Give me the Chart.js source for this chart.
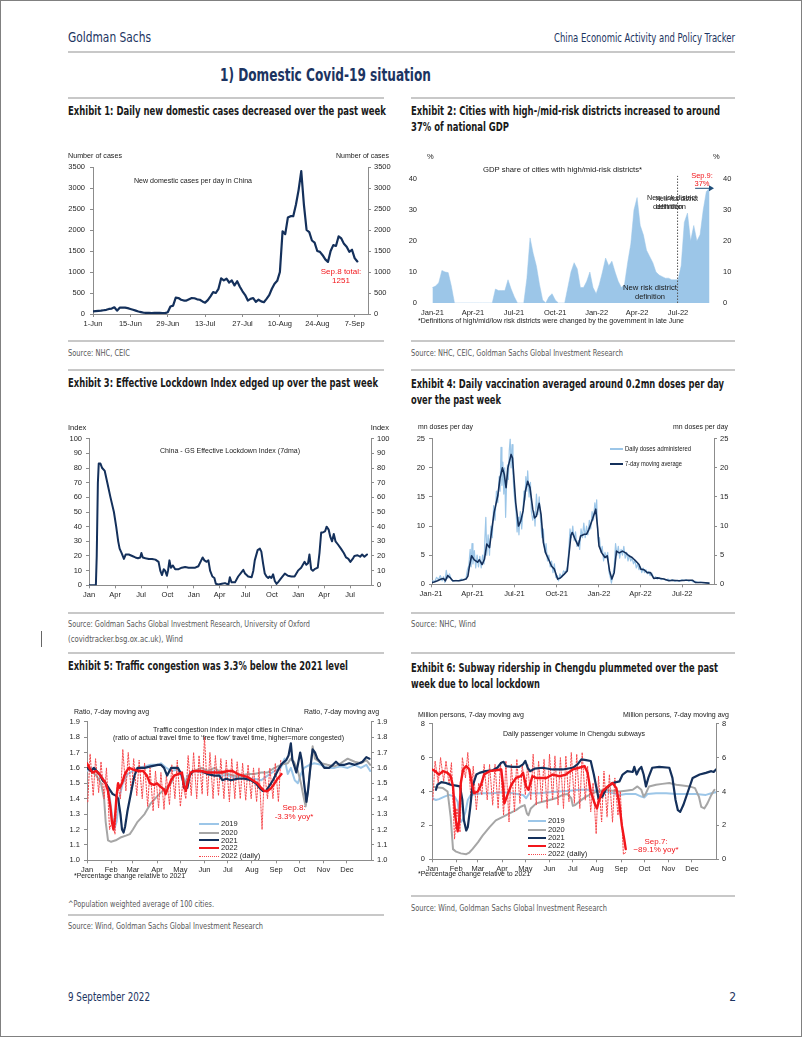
<!DOCTYPE html>
<html>
<head>
<meta charset="utf-8">
<script src="https://cdn.jsdelivr.net/npm/chart.js@4.4.1/dist/chart.umd.min.js"></script>
<style>
  body { margin: 0; background: #fff; }
  #page { position: relative; width: 802px; height: 1037px; box-sizing: border-box; border: 1px solid #808080; overflow: hidden; background: #fff; }
  .t { position: absolute; white-space: nowrap; line-height: 1; transform-origin: 0 50%; }
  .rule { position: absolute; height: 2px; background: #c8c8c8; }
  .seg { position: absolute; height: 0; }
  canvas { position: absolute; }
</style>
</head>
<body>
<div id="page"></div>
<script>
// ---- Exhibit 1: daily new domestic cases, 1-Jun to 8-Sep 2022 ----
const casesTickLabels = ['1-Jun', '15-Jun', '29-Jun', '13-Jul', '27-Jul', '10-Aug', '24-Aug', '7-Sep'];
const casesTickDays = [0, 14, 28, 42, 56, 70, 84, 98];
const dailyCases = [
  60, 70, 75, 80, 90, 100, 120, 130, 160, 80,
  150, 150, 150, 140, 120, 100, 80, 60, 45, 30,
  25, 25, 20, 25, 30, 25, 20, 20, 40, 180,
  200, 390, 380, 340, 320, 320, 350, 380, 375, 350,
  340, 300, 270, 330, 420, 520, 500, 600, 850, 800,
  840, 750, 800, 680, 780, 650, 540, 450, 320, 360,
  380, 290, 340, 300, 280, 360, 450, 600, 720, 790,
  1000, 1970, 1900, 2300, 2330, 2330, 2600, 2950, 3400, 2600,
  2000, 1950, 1750, 1700, 1500, 1480, 1400, 1300, 1240, 1500,
  1640, 1620, 1850, 1800, 1670, 1600, 1480, 1530, 1330, 1251
];

// ---- Exhibit 2: GDP share of cities with high/mid-risk districts, weekly from 1-Jan-2021 (%) ----
const GDP_START = '2021-01-01';
const gdpShareWeekly = [
  5, 5.5, 6.5, 10.5, 10, 9.8, 5.5, 0, 0, 0, 0, 0, 0, 0, 0, 0, 0, 0, 0, 0,
  4.5, 4, 4, 4, 7.5, 4.5, 2, 0, 0, 0, 8, 21, 16, 12, 6, 1, 0, 2, 3, 1,
  0, 0, 0, 5, 10, 13, 11, 5, 5, 7, 10, 5, 3, 6, 10, 14.5, 12, 13.5, 10, 7,
  5, 6, 13, 19, 30, 34, 25, 22, 17, 15, 13, 10, 9, 8.5, 8, 8, 7.5, 7.5, 7.5, 12,
  26, 29, 20, 25, 20, 22, 30, 36, 37
];
const RISK_CHANGE_DATE = '2022-06-30';
const ARROW_FROM_DATE = '2022-08-08';
const latestShare = 37;
const monthYrTickDates = ['2021-01-01', '2021-04-01', '2021-07-01', '2021-10-01', '2022-01-01', '2022-04-01', '2022-07-01'];
const monthYrTickLabels = ['Jan-21', 'Apr-21', 'Jul-21', 'Oct-21', 'Jan-22', 'Apr-22', 'Jul-22'];

// ---- Exhibit 3: GS Effective Lockdown Index, [days since 1-Jan-2020, index] ----
const LOCK_START = '2020-01-01';
const lockTickDates = ['2020-01-01', '2020-04-01', '2020-07-01', '2020-10-01', '2021-01-01', '2021-04-01',
  '2021-07-01', '2021-10-01', '2022-01-01', '2022-04-01', '2022-07-01'];
const lockTickLabels = ['Jan', 'Apr', 'Jul', 'Oct', 'Jan', 'Apr', 'Jul', 'Oct', 'Jan', 'Apr', 'Jul'];
const lockdownIndex = [
  [0, 0], [24, 0], [27, 20], [31, 70], [34, 83], [40, 83], [46, 80], [55, 78], [64, 70], [75, 60],
  [87, 50], [95, 40], [102, 30], [107, 25], [114, 22], [122, 18], [128, 21], [139, 21], [151, 20], [162, 19],
  [171, 18.5], [179, 19], [183, 22], [188, 19], [197, 18.5], [209, 18], [220, 18], [232, 17.5], [243, 16], [249, 10],
  [255, 7], [261, 11], [266, 10], [272, 6.5], [276, 10], [281, 17], [286, 12], [293, 13.5], [301, 11], [313, 11],
  [324, 12], [336, 12.5], [348, 12], [359, 12], [371, 12], [382, 13], [392, 17], [397, 19], [403, 17], [411, 16],
  [417, 17], [423, 10], [431, 6], [438, 5], [443, 1], [452, 0.5], [464, 1], [475, 1.5], [487, 0.5], [492, 5.5],
  [498, 2], [510, 2], [521, 6], [533, 9], [539, 10.5], [545, 8], [556, 6], [568, 5.5], [574, 10], [579, 17],
  [589, 24], [597, 25], [602, 23], [608, 15], [614, 8], [620, 6], [626, 5], [631, 6], [637, 5], [643, 7.5],
  [649, 3], [655, 1], [660, 2], [672, 5], [684, 8], [695, 6.5], [707, 6], [718, 6], [730, 10], [741, 12],
  [753, 16], [759, 14], [765, 15], [770, 21], [776, 11], [782, 10], [788, 11], [799, 12], [805, 22], [811, 36],
  [817, 36], [825, 37], [830, 40], [837, 38], [843, 33], [849, 30], [855, 35], [861, 30], [869, 28], [880, 25],
  [890, 22], [898, 19], [906, 18], [913, 16], [921, 18], [927, 20], [938, 20.5], [947, 19.5], [954, 21], [962, 19.5], [971, 21]
];

// ---- Exhibit 4: vaccinations, [days since 1-Jan-2021, mn doses] ----
const VAX_START = '2021-01-01';
const vaxDaily = [
  [0, 0.3], [4, 0.6], [8, 0.5], [12, 1.2], [16, 0.8], [20, 1.5], [24, 0.6], [27, 1.3], [30, 0.3], [33, 2.4],
  [36, 1.0], [40, 1.8], [44, 0.8], [48, 0.5], [54, 0.7], [60, 0.6], [66, 0.9], [72, 0.8], [76, 1.1], [79, 2.5],
  [82, 3.2], [85, 6.0], [87, 3.0], [89, 7.0], [91, 3.5], [94, 5.8], [97, 2.8], [100, 5.0], [103, 3.0], [106, 4.8],
  [109, 2.8], [112, 5.0], [115, 3.5], [117, 8.0], [119, 11.5], [121, 5.0], [124, 8.5], [127, 5.0], [130, 10.0], [133, 8.0],
  [136, 13.5], [139, 11.0], [142, 16.0], [145, 14.0], [148, 18.5], [150, 16.0], [152, 23.5], [154, 17.0], [156, 21.0], [158, 15.5],
  [160, 20.0], [162, 11.5], [164, 17.0], [166, 20.5], [168, 18.0], [170, 23.0], [172, 25.0], [174, 20.0], [176, 24.0], [178, 19.0],
  [180, 16.0], [182, 14.5], [185, 12.0], [187, 9.0], [189, 11.5], [191, 8.5], [194, 12.5], [197, 9.5], [200, 13.0], [202, 16.0],
  [204, 14.5], [206, 18.5], [208, 16.0], [210, 19.5], [213, 15.0], [216, 17.5], [218, 12.5], [221, 11.0], [224, 12.5], [226, 10.0],
  [229, 15.5], [232, 12.0], [235, 15.0], [238, 11.0], [241, 8.0], [244, 9.5], [247, 5.5], [250, 7.0], [253, 4.0], [256, 5.0],
  [259, 3.0], [262, 4.0], [265, 2.0], [268, 3.5], [271, 1.2], [274, 1.5], [277, 0.6], [280, 1.8], [284, 1.2], [288, 2.3],
  [292, 2.0], [296, 3.0], [299, 5.5], [302, 9.5], [305, 8.0], [308, 10.0], [311, 7.5], [314, 9.0], [317, 6.5], [320, 7.5],
  [323, 6.0], [326, 9.5], [329, 8.0], [332, 10.5], [335, 8.0], [338, 10.0], [341, 8.5], [344, 11.0], [347, 9.5], [350, 12.5],
  [353, 11.0], [356, 14.0], [358, 12.0], [360, 14.5], [362, 9.0], [364, 7.0], [366, 8.0], [369, 5.5], [372, 6.5], [375, 4.0],
  [378, 5.5], [381, 4.5], [384, 5.5], [387, 2.0], [390, 1.0], [392, 0.2], [395, 1.5], [398, 3.0], [401, 7.0], [404, 5.0],
  [407, 6.5], [410, 4.5], [413, 6.0], [416, 5.0], [419, 6.5], [422, 4.5], [425, 5.5], [428, 4.0], [431, 5.0], [434, 4.0],
  [437, 4.5], [440, 3.5], [443, 4.2], [446, 2.8], [449, 3.5], [452, 2.5], [455, 3.0], [458, 2.0], [461, 2.8], [464, 2.0],
  [467, 2.5], [470, 1.8], [473, 2.2], [476, 1.5], [480, 1.9], [484, 1.0], [488, 1.3], [492, 0.9], [496, 1.2], [500, 0.8],
  [505, 1.0], [510, 0.7], [515, 0.9], [520, 0.6], [525, 0.8], [530, 0.5], [535, 0.7], [540, 0.5], [545, 0.8], [550, 0.6],
  [555, 0.8], [560, 0.5], [565, 0.7], [570, 0.4], [575, 0.5], [580, 0.3], [585, 0.4], [590, 0.3], [595, 0.3], [600, 0.2], [604, 0.2]
];
const vaxMA7 = [
  [0, 0.3], [7, 0.4], [14, 0.6], [22, 0.9], [27, 1.0], [31, 0.6], [36, 1.5], [42, 1.1], [47, 0.6], [54, 0.6],
  [61, 0.6], [69, 0.75], [76, 0.9], [80, 1.4], [83, 2.9], [88, 4.9], [94, 4.2], [101, 3.8], [105, 4.2], [111, 3.4],
  [116, 4.3], [121, 6.9], [127, 6.3], [132, 9.4], [137, 12.3], [145, 15.2], [150, 18.3], [155, 20], [159, 18.9], [163, 16.6],
  [167, 20], [174, 22.3], [177, 21.7], [184, 14], [190, 10], [195, 10.9], [200, 12.6], [205, 16], [210, 17.7], [215, 16.6],
  [221, 12.9], [225, 11.4], [229, 11.7], [235, 13.9], [239, 12], [244, 7.2], [249, 5.4], [257, 4], [262, 3.1], [268, 2.6],
  [275, 0.9], [281, 1.1], [289, 1.7], [296, 2.3], [304, 8.4], [307, 8.9], [315, 7.4], [320, 6.6], [325, 8.3], [333, 8.6],
  [338, 8.6], [343, 9.4], [351, 11.2], [358, 12.9], [362, 9.7], [365, 6.6], [371, 5.4], [378, 4.6], [383, 4.9], [388, 2.3],
  [393, 0.9], [398, 2], [403, 5.7], [409, 5.4], [416, 5.7], [423, 5.4], [430, 4.9], [437, 4.6], [445, 4], [452, 3.4],
  [456, 2.6], [463, 2.5], [470, 2], [477, 2], [484, 1], [492, 1.1], [499, 1], [506, 0.9], [517, 0.6], [524, 0.7],
  [539, 0.6], [553, 0.7], [568, 0.7], [575, 0.3], [589, 0.3], [604, 0.2]
];

// ---- Exhibits 5 and 6: [day of year, value] ----
const monthLabels = ['Jan', 'Feb', 'Mar', 'Apr', 'May', 'Jun', 'Jul', 'Aug', 'Sep', 'Oct', 'Nov', 'Dec'];
const traffic2019 = [
  [0, 1.58], [5, 1.6], [12, 1.58], [18, 1.55], [24, 1.5], [29, 1.42], [32, 1.3], [35, 1.2], [38, 1.25], [42, 1.42],
  [46, 1.5], [52, 1.56], [59, 1.58], [65, 1.6], [74, 1.61], [82, 1.62], [91, 1.62], [95, 1.63], [102, 1.6], [108, 1.58],
  [117, 1.59], [123, 1.52], [126, 1.49], [129, 1.55], [138, 1.58], [147, 1.57], [155, 1.57], [164, 1.58], [172, 1.55], [181, 1.55],
  [189, 1.54], [198, 1.55], [207, 1.53], [215, 1.53], [224, 1.52], [232, 1.55], [241, 1.58], [249, 1.6], [254, 1.66], [258, 1.56],
  [262, 1.6], [267, 1.52], [271, 1.5], [275, 1.56], [279, 1.6], [286, 1.62], [292, 1.63], [301, 1.62], [309, 1.6], [318, 1.6],
  [326, 1.61], [335, 1.6], [344, 1.62], [352, 1.6], [359, 1.62], [364, 1.58]
];
const traffic2020 = [
  [0, 1.6], [5, 1.58], [12, 1.55], [18, 1.5], [22, 1.4], [24, 1.25], [27, 1.13], [31, 1.12], [37, 1.13], [44, 1.15],
  [50, 1.16], [55, 1.17], [59, 1.2], [65, 1.25], [74, 1.3], [82, 1.37], [91, 1.42], [99, 1.46], [108, 1.5], [112, 1.55],
  [121, 1.57], [127, 1.5], [131, 1.55], [138, 1.58], [147, 1.6], [155, 1.58], [164, 1.6], [172, 1.57], [181, 1.56], [189, 1.55],
  [198, 1.55], [207, 1.56], [215, 1.56], [224, 1.57], [232, 1.57], [241, 1.6], [249, 1.62], [258, 1.63], [262, 1.66], [266, 1.64],
  [271, 1.58], [275, 1.5], [278, 1.42], [281, 1.35], [284, 1.45], [287, 1.6], [290, 1.74], [293, 1.66], [301, 1.63], [309, 1.62],
  [318, 1.61], [326, 1.63], [335, 1.66], [344, 1.64], [352, 1.63], [359, 1.65], [364, 1.62]
];
const traffic2021 = [
  [0, 1.6], [5, 1.58], [9, 1.6], [14, 1.57], [17, 1.55], [20, 1.52], [24, 1.5], [29, 1.46], [33, 1.43], [37, 1.42],
  [40, 1.4], [43, 1.3], [45, 1.2], [47, 1.18], [49, 1.22], [52, 1.32], [57, 1.45], [61, 1.55], [65, 1.6], [69, 1.6],
  [74, 1.6], [82, 1.61], [91, 1.62], [95, 1.62], [99, 1.6], [103, 1.55], [108, 1.6], [117, 1.6], [122, 1.55], [125, 1.47],
  [129, 1.47], [132, 1.55], [136, 1.58], [147, 1.58], [155, 1.56], [164, 1.55], [170, 1.55], [174, 1.52], [179, 1.53], [185, 1.52],
  [194, 1.53], [202, 1.53], [211, 1.52], [217, 1.5], [222, 1.47], [226, 1.45], [230, 1.45], [234, 1.48], [239, 1.52], [243, 1.56],
  [247, 1.6], [251, 1.63], [256, 1.65], [259, 1.68], [262, 1.76], [264, 1.65], [266, 1.62], [269, 1.57], [271, 1.62], [274, 1.7],
  [276, 1.65], [279, 1.5], [282, 1.38], [284, 1.45], [287, 1.6], [290, 1.72], [293, 1.7], [296, 1.66], [301, 1.63], [305, 1.6],
  [311, 1.6], [316, 1.62], [320, 1.64], [324, 1.62], [331, 1.62], [337, 1.63], [344, 1.62], [350, 1.63], [354, 1.64], [359, 1.67], [363, 1.66]
];
const traffic2022 = [
  [0, 1.63], [3, 1.6], [7, 1.57], [12, 1.58], [16, 1.56], [20, 1.53], [24, 1.5], [27, 1.45], [30, 1.35], [32, 1.25],
  [34, 1.2], [36, 1.28], [38, 1.42], [40, 1.5], [42, 1.47], [45, 1.5], [48, 1.55], [51, 1.58], [54, 1.6], [59, 1.59],
  [65, 1.58], [72, 1.58], [77, 1.55], [81, 1.5], [86, 1.49], [90, 1.5], [94, 1.48], [99, 1.46], [101, 1.43], [104, 1.47],
  [108, 1.52], [112, 1.55], [117, 1.56], [122, 1.57], [124, 1.5], [127, 1.45], [129, 1.5], [133, 1.57], [138, 1.58], [147, 1.58],
  [155, 1.57], [164, 1.57], [172, 1.57], [181, 1.58], [187, 1.58], [194, 1.56], [200, 1.55], [207, 1.54], [213, 1.52], [219, 1.5],
  [224, 1.47], [228, 1.45], [232, 1.45], [237, 1.47], [241, 1.5], [245, 1.53], [250, 1.56]
];
// 2022 daily readings: weekday highs and Sunday lows, one pair per week from 2-Jan-2022
const trafficDailyHigh = [1.69, 1.66, 1.64, 1.6, 1.25, 1.5, 1.72, 1.7, 1.66, 1.65, 1.63, 1.6, 1.58, 1.57, 1.55, 1.62, 1.65, 1.5,
  1.68, 1.7, 1.68, 1.8, 1.7, 1.68, 1.66, 1.65, 1.66, 1.64, 1.63, 1.62, 1.6, 1.6, 1.58, 1.6, 1.63, 1.65];
const trafficDailyLow = [1.38, 1.42, 1.44, 1.4, 1.2, 1.17, 1.4, 1.45, 1.43, 1.42, 1.4, 1.35, 1.32, 1.34, 1.33, 1.36, 1.4, 1.35,
  1.4, 1.42, 1.4, 1.43, 1.42, 1.4, 1.42, 1.4, 1.38, 1.4, 1.4, 1.39, 1.4, 1.38, 1.2, 1.4, 1.4, 1.38];

const subway2019 = [
  [0, 3.6], [5, 3.5], [9, 3.55], [16, 3.7], [22, 3.8], [29, 3.7], [33, 3.4], [35, 2.6], [37, 2.2], [39, 2.3],
  [43, 2.8], [46, 3.5], [50, 3.8], [57, 3.85], [65, 3.9], [78, 3.9], [91, 3.95], [104, 3.9], [117, 3.8], [121, 3.6],
  [125, 3.9], [138, 3.9], [151, 3.95], [164, 4.0], [177, 4.05], [189, 4.1], [202, 4.1], [215, 4.0], [228, 3.95], [241, 3.8],
  [249, 3.85], [262, 3.85], [269, 3.7], [273, 3.65], [277, 3.85], [288, 3.9], [301, 3.9], [314, 3.85], [326, 3.85], [339, 3.85],
  [352, 3.8], [359, 3.9], [365, 3.95]
];
const subway2020 = [
  [0, 4.3], [5, 4.25], [14, 4.2], [20, 4.0], [24, 2.5], [27, 0.6], [31, 0.45], [37, 0.35], [44, 0.3], [48, 0.4],
  [52, 0.6], [59, 1.0], [65, 1.4], [74, 1.9], [82, 2.3], [91, 2.5], [99, 2.7], [108, 2.9], [114, 3.1], [119, 3.2],
  [122, 2.7], [124, 2.6], [127, 3.0], [134, 3.3], [142, 3.4], [151, 3.5], [159, 3.6], [168, 3.8], [174, 3.85], [179, 3.6],
  [181, 3.15], [184, 3.2], [189, 3.4], [198, 3.7], [207, 3.9], [215, 4.05], [224, 4.1], [232, 4.05], [241, 4.0], [249, 4.05],
  [258, 4.1], [264, 4.3], [269, 4.1], [272, 3.7], [275, 3.9], [279, 4.3], [288, 4.4], [296, 4.45], [305, 4.5], [314, 4.4],
  [322, 4.35], [331, 4.3], [338, 4.2], [343, 3.7], [346, 3.1], [350, 3.0], [354, 3.3], [359, 3.8], [363, 4.1]
];
const subway2021 = [
  [5, 4.1], [7, 4.4], [12, 4.55], [18, 4.5], [24, 4.4], [31, 4.35], [36, 4.3], [39, 3.5], [41, 2.3], [44, 1.7],
  [46, 1.9], [49, 3.0], [52, 4.3], [57, 5.0], [61, 5.1], [69, 5.2], [78, 5.25], [84, 5.4], [89, 5.7], [92, 5.75],
  [95, 5.5], [104, 5.45], [112, 5.45], [117, 5.6], [120, 5.8], [123, 5.4], [126, 5.2], [132, 5.35], [142, 5.4], [155, 5.3],
  [168, 5.3], [181, 5.4], [187, 5.6], [192, 5.9], [198, 5.85], [204, 5.8], [208, 5.0], [211, 4.3], [214, 3.6], [219, 3.7],
  [224, 4.2], [232, 4.5], [241, 4.6], [245, 5.0], [251, 5.2], [258, 5.15], [260, 5.45], [263, 5.0], [266, 5.3], [269, 5.45],
  [272, 5.0], [275, 4.3], [278, 4.8], [283, 5.4], [292, 5.45], [305, 5.4], [309, 4.8], [313, 3.5], [316, 2.9], [319, 2.8],
  [323, 3.2], [329, 4.0], [335, 4.8], [344, 5.0], [352, 5.1], [359, 5.2], [362, 5.15], [365, 5.3]
];
const subway2022 = [
  [0, 5.3], [4, 5.2], [9, 5.0], [14, 5.2], [20, 5.1], [24, 4.9], [27, 4.3], [30, 2.5], [33, 1.65], [35, 2.3],
  [37, 4.5], [40, 5.3], [44, 5.5], [48, 5.3], [51, 4.5], [54, 3.9], [59, 4.0], [63, 4.4], [67, 5.0], [74, 5.2],
  [82, 5.25], [89, 5.3], [91, 4.5], [93, 3.3], [97, 3.8], [102, 4.4], [108, 4.8], [114, 4.9], [117, 5.1], [121, 4.3],
  [124, 4.1], [129, 4.9], [134, 4.8], [147, 4.8], [155, 5.0], [164, 4.9], [172, 5.0], [181, 5.3], [189, 5.4], [196, 5.5],
  [200, 5.1], [204, 4.0], [209, 3.3], [212, 3.0], [215, 3.5], [219, 4.0], [226, 4.3], [232, 4.5], [237, 4.2], [241, 3.2],
  [244, 2.0], [247, 1.2], [249, 0.6]
];
const subwayDailyHigh = [5.8, 6.0, 5.8, 5.7, 3.0, 6.0, 6.3, 5.5, 4.5, 5.6, 5.6, 5.6, 5.7, 5.8, 5.6, 5.9, 5.6, 5.6,
  6.2, 5.8, 5.9, 6.2, 6.1, 6.0, 6.1, 6.3, 6.2, 6.3, 5.5, 4.5, 4.9, 5.2, 5.0, 4.8, 4.0, 0.4];
const subwayDailyLow = [3.5, 4.5, 4.6, 4.4, 1.2, 1.6, 4.8, 3.6, 2.9, 3.8, 3.5, 3.2, 3.0, 2.6, 2.2, 2.8, 3.3, 3.8,
  3.5, 3.2, 3.4, 3.0, 3.5, 3.2, 3.0, 3.4, 3.3, 3.0, 3.5, 2.8, 1.5, 2.2, 2.5, 2.2, 2.6, 0.3];

// ---- styling ----
const NARROW = '"Liberation Sans Narrow","DejaVu Sans Condensed","Liberation Sans",Arial,sans-serif';
const ARIAL = '"Liberation Sans",Arial,sans-serif';
const NAVY = '#14305b', RED = '#f2161b', LBLUE = '#9cc6e8', GRAY = '#a6a6a6';
const AXIS = '#8c8c8c', TICK = '#262626', HEAD = '#1c3461', SRC = '#595959';
const page = document.getElementById('page');

const dayOf = (s, base) => Math.round((Date.parse(s) - Date.parse(base)) / 864e5);
const pts = arr => arr.map(p => ({ x: p[0], y: p[1] }));
function weekly(high, low) {
  // Sunday low then mid-week high for every week starting 2-Jan-2022
  const out = [];
  high.forEach((h, k) => { out.push({ x: 1 + 7 * k, y: low[k] }, { x: 4 + 7 * k, y: h }); });
  return out;
}

function txt(s, x, y, size, o = {}) {
  const d = document.createElement('div');
  d.className = 't';
  d.textContent = s;
  d.style.fontFamily = o.narrow ? NARROW : ARIAL;
  d.style.fontSize = size + 'px';
  d.style.fontWeight = o.bold ? 'bold' : 'normal';
  d.style.color = o.color || '#1a1a1a';
  d.style.top = (y - size / 2) + 'px';
  page.appendChild(d);
  const aw = d.getBoundingClientRect().width;
  const sc = o.w ? o.w / aw : 1;
  const fw = aw * sc;
  d.style.left = (o.align === 'right' ? x - fw : o.align === 'center' ? x - fw / 2 : x) + 'px';
  if (sc !== 1) d.style.transform = 'scaleX(' + sc + ')';
}
function rule(x1, x2, y) {
  const d = document.createElement('div');
  d.className = 'rule';
  Object.assign(d.style, { left: x1 + 'px', width: (x2 - x1) + 'px', top: (y - 1) + 'px' });
  page.appendChild(d);
}
function seg(x1, x2, y, color, w, style) {
  const d = document.createElement('div');
  d.className = 'seg';
  Object.assign(d.style, { left: x1 + 'px', width: (x2 - x1) + 'px', top: (y - w / 2) + 'px',
    borderTop: w + 'px ' + (style || 'solid') + ' ' + color });
  page.appendChild(d);
}

function xAxis(o) {
  return {
    type: 'linear', min: o.min, max: o.max,
    afterBuildTicks: s => { s.ticks = o.at.map(v => ({ value: v })); },
    afterFit: s => { s.height = o.h; },
    ticks: { autoSkip: false, maxRotation: 0, padding: 2, color: TICK, font: { family: ARIAL, size: 7.5 },
      callback: (v, i) => o.labels[i] },
    grid: { display: o.line !== false, drawOnChartArea: false, tickLength: 3, color: AXIS },
    border: { display: o.line !== false, color: AXIS }
  };
}
function yAxis(pos, o) {
  return {
    type: 'linear', position: pos, min: o.min, max: o.max,
    afterBuildTicks: s => { s.ticks = o.at.map(v => ({ value: v })); },
    // fixed axis width; keep label padding from pushing the plot area down
    afterFit: s => { s.width = pos === 'left' ? o.lw : o.rw; s.paddingTop = 4; s.paddingBottom = 4; },
    ticks: { padding: pos === 'left' ? (o.lpad || 4) : (o.rpad || 3), color: TICK,
      font: { family: ARIAL, size: 7.5 }, callback: o.fmt || (v => v) },
    grid: { display: o.line !== false, drawOnChartArea: false, tickLength: 3, color: AXIS },
    border: { display: o.line !== false, color: AXIS }
  };
}
function makeChart(box, x, y, datasets, plugins) {
  const cv = document.createElement('canvas');
  cv.width = box.w; cv.height = box.h;
  Object.assign(cv.style, { left: box.x + 'px', top: box.y + 'px', width: box.w + 'px', height: box.h + 'px' });
  page.appendChild(cv);
  return new Chart(cv, {
    type: 'line',
    data: { datasets },
    options: {
      responsive: false, animation: false, devicePixelRatio: 1,
      layout: { padding: { top: box.top, left: 0, right: 0, bottom: 0 } },
      plugins: { legend: { display: false }, tooltip: { enabled: false } },
      elements: { point: { radius: 0 }, line: { tension: 0, borderJoinStyle: 'round', borderCapStyle: 'round' } },
      scales: { x: xAxis(x), y: yAxis('left', y), y2: yAxis('right', y) }
    },
    plugins: plugins || []
  });
}

// ---- page text ----
txt('Goldman Sachs', 67, 36, 14.5, { narrow: true, color: HEAD, w: 83 });
txt('China Economic Activity and Policy Tracker', 734, 38, 11.5, { narrow: true, color: HEAD, w: 181, align: 'right' });
rule(67, 734, 51);
txt('1) Domestic Covid-19 situation', 219, 74, 18, { narrow: true, bold: true, color: HEAD, w: 211 });

[97, 340, 369, 612, 652].forEach(y => { rule(67, 383, y); rule(410, 734, y); });
rule(67, 383, 914);
rule(410, 734, 895);

const EX = { narrow: true, bold: true, color: '#1a1a1a' };
txt('Exhibit 1: Daily new domestic cases decreased over the past week', 67, 110, 12.5, { ...EX, w: 318 });
txt('Exhibit 2: Cities with high-/mid-risk districts increased to around', 410, 110, 12.5, { ...EX, w: 309 });
txt('37% of national GDP', 410, 126, 12.5, { ...EX, w: 98 });
txt('Exhibit 3: Effective Lockdown Index edged up over the past week', 67, 382, 12.5, { ...EX, w: 310 });
txt('Exhibit 4: Daily vaccination averaged around 0.2mn doses per day', 410, 383, 12.5, { ...EX, w: 313 });
txt('over the past week', 410, 399, 12.5, { ...EX, w: 90 });
txt('Exhibit 5: Traffic congestion was 3.3% below the 2021 level', 67, 665, 12.5, { ...EX, w: 280 });
txt('Exhibit 6: Subway ridership in Chengdu plummeted over the past', 410, 667, 12.5, { ...EX, w: 307 });
txt('week due to local lockdown', 410, 683, 12.5, { ...EX, w: 129 });

const SR = { narrow: true, color: SRC };
txt('Source: NHC, CEIC', 67, 352, 8.5, { ...SR, w: 62 });
txt('Source: NHC, CEIC, Goldman Sachs Global Investment Research', 410, 352, 8.5, { ...SR, w: 212 });
txt('Source: Goldman Sachs Global Investment Research, University of Oxford', 67, 623, 8.5, { ...SR, w: 242 });
txt('(covidtracker.bsg.ox.ac.uk), Wind', 67, 638, 8.5, { ...SR, w: 115 });
txt('Source: NHC, Wind', 410, 623, 8.5, { ...SR, w: 65 });
txt('^Population weighted average of 100 cities.', 67, 903, 8.5, { ...SR, w: 146 });
txt('Source: Wind, Goldman Sachs Global Investment Research', 67, 925, 8.5, { ...SR, w: 195 });
txt('Source: Wind, Goldman Sachs Global Investment Research', 410, 907, 8.5, { ...SR, w: 196 });
txt('9 September 2022', 67, 996, 12, { narrow: true, color: HEAD, w: 82 });
txt('2', 735, 996, 12, { narrow: true, color: HEAD, align: 'right' });
const mark = document.createElement('div');
Object.assign(mark.style, { position: 'absolute', left: '40px', top: '630px', width: '1px', height: '16px', background: '#666' });
page.appendChild(mark);

// ---- Exhibit 1 ----
makeChart({ x: 62, y: 150, w: 333, h: 180, top: 16 },
  { min: 0, max: 103, at: casesTickDays, labels: casesTickLabels, h: 17 },
  { min: 0, max: 3500, at: [0, 500, 1000, 1500, 2000, 2500, 3000, 3500], lw: 30, rw: 28, lpad: 5 },
  [{ data: dailyCases.map((v, i) => ({ x: i, y: v })), borderColor: NAVY, borderWidth: 2.2 }]);
txt('Number of cases', 67, 155, 7.5, { w: 54 });
txt('Number of cases', 388, 155, 7.5, { w: 53, align: 'right' });
txt('New domestic cases per day in China', 133, 180, 7.5, { w: 118 });
txt('Sep.8 total:', 340, 271, 8, { color: RED, align: 'center' });
txt('1251', 340, 280, 8, { color: RED, align: 'center' });

// ---- Exhibit 2 ----
const riskPlugin = {
  id: 'riskLines',
  afterDatasetsDraw(c) {
    const { ctx, scales: { x, y } } = c;
    const px = x.getPixelForValue(dayOf(RISK_CHANGE_DATE, GDP_START));
    ctx.save();
    ctx.strokeStyle = '#555';
    ctx.lineWidth = 1;
    ctx.setLineDash([1.5, 1.5]);
    ctx.beginPath();
    ctx.moveTo(px, y.getPixelForValue(0));
    ctx.lineTo(px, y.getPixelForValue(41));
    ctx.stroke();
    ctx.setLineDash([]);
    const ay = y.getPixelForValue(latestShare);
    const ax0 = x.getPixelForValue(dayOf(ARROW_FROM_DATE, GDP_START));
    const ax1 = c.chartArea.right;
    ctx.strokeStyle = '#1f4e79';
    ctx.fillStyle = '#1f4e79';
    ctx.beginPath(); ctx.moveTo(ax0, ay); ctx.lineTo(ax1 - 4, ay); ctx.stroke();
    ctx.beginPath(); ctx.moveTo(ax1, ay); ctx.lineTo(ax1 - 5, ay - 3); ctx.lineTo(ax1 - 5, ay + 3); ctx.closePath(); ctx.fill();
    ctx.restore();
  }
};
makeChart({ x: 405, y: 150, w: 327, h: 168, top: 12.5 },
  { min: -1, max: 626, at: monthYrTickDates.map(d => dayOf(d, GDP_START)), labels: monthYrTickLabels, h: 16, line: false },
  { min: 0, max: 45, at: [0, 10, 20, 30, 40], lw: 26, rw: 19, lpad: 12, rpad: 6, line: false },
  [{ data: gdpShareWeekly.map((v, k) => ({ x: 7 * k, y: v })), borderColor: LBLUE, backgroundColor: LBLUE,
     borderWidth: 0.5, fill: 'origin' }],
  [riskPlugin]);
txt('%', 426, 156, 7.5);
txt('%', 712, 156, 7.5);
txt('GDP share of cities with high/mid-risk districts*', 561, 169, 7.5, { w: 159, align: 'center' });
txt('New risk district', 649, 287, 7.5, { w: 54, align: 'center' });
txt('definition', 649, 296, 7.5, { align: 'center' });
txt('New risk district', 671, 197, 7.5, { w: 50, align: 'center' });
txt('New risk district', 676, 198, 7.5, { w: 42, align: 'center' });
txt('definition', 667, 206, 7.5, { align: 'center' });
txt('definition', 670, 206, 7.5, { align: 'center' });
txt('Sep.9:', 701, 175, 7.5, { color: RED, align: 'center' });
txt('37%', 701, 183, 7.5, { color: RED, align: 'center' });
txt('*Definitions of high/mid/low risk districts were changed by the government in late June', 417, 320, 7.5, { w: 266 });

// ---- Exhibit 3 ----
makeChart({ x: 62, y: 425, w: 333, h: 176, top: 12.7 },
  { min: 0, max: 985, at: lockTickDates.map(d => dayOf(d, LOCK_START)), labels: lockTickLabels, h: 16.7 },
  { min: 0, max: 100, at: [0, 10, 20, 30, 40, 50, 60, 70, 80, 90, 100], lw: 26, rw: 25 },
  [{ data: pts(lockdownIndex), borderColor: NAVY, borderWidth: 2 }]);
txt('Index', 67, 427, 7.5);
txt('Index', 388, 427, 7.5, { align: 'right' });
txt('China - GS Effective Lockdown Index (7dma)', 229, 450, 7.5, { w: 140, align: 'center' });

// ---- Exhibit 4 ----
makeChart({ x: 405, y: 425, w: 327, h: 176, top: 12.7 },
  { min: 2, max: 615, at: monthYrTickDates.map(d => dayOf(d, VAX_START)), labels: monthYrTickLabels, h: 17.7 },
  { min: 0, max: 25, at: [0, 5, 10, 15, 20, 25], lw: 26, rw: 19 },
  [{ data: pts(vaxMA7), borderColor: NAVY, borderWidth: 1.6 },
   { data: pts(vaxDaily), borderColor: LBLUE, borderWidth: 1.2 }]);
txt('mn doses per day', 417, 426, 7.5, { w: 55 });
txt('mn doses per day', 727, 426, 7.5, { w: 55, align: 'right' });
seg(609, 622, 448, LBLUE, 2);
txt('Daily doses administered', 624, 448, 6.3, { w: 66 });
seg(609, 622, 463, NAVY, 2);
txt('7-day moving average', 624, 463, 6.3, { w: 57 });

// ---- Exhibit 5 ----
const monthStarts = monthLabels.map((m, i) => dayOf('2021-' + String(i + 1).padStart(2, '0') + '-01', '2021-01-01'));
makeChart({ x: 62, y: 708, w: 333, h: 165, top: 12.7 },
  { min: 0, max: 365, at: monthStarts, labels: monthLabels, h: 13.7 },
  { min: 1.0, max: 1.9, at: [1.0, 1.1, 1.2, 1.3, 1.4, 1.5, 1.6, 1.7, 1.8, 1.9], lw: 24, rw: 25, fmt: v => v.toFixed(1) },
  [{ data: pts(traffic2022), borderColor: RED, borderWidth: 2.4 },
   { data: pts(traffic2021), borderColor: NAVY, borderWidth: 2.2 },
   { data: weekly(trafficDailyHigh, trafficDailyLow), borderColor: '#f5474b', borderWidth: 1, borderDash: [1.5, 1.5] },
   { data: pts(traffic2020), borderColor: GRAY, borderWidth: 2 },
   { data: pts(traffic2019), borderColor: LBLUE, borderWidth: 2 }]);
txt('Ratio, 7-day moving avg', 73, 711, 7.5, { w: 75 });
txt('Ratio, 7-day moving avg', 378, 711, 7.5, { w: 75, align: 'right' });
txt('Traffic congestion index in major cities in China^', 227, 728, 7, { w: 150, align: 'center' });
txt('(ratio of actual travel time to \u2018free flow\u2019 travel time, higher=more congested)', 227, 736, 7, { w: 231, align: 'center' });
seg(198, 218, 823, LBLUE, 2); txt('2019', 220, 823, 7.5);
seg(198, 218, 831.5, GRAY, 2); txt('2020', 220, 831.5, 7.5);
seg(198, 218, 839.5, NAVY, 2.5); txt('2021', 220, 839.5, 7.5);
seg(198, 218, 847, RED, 2.5); txt('2022', 220, 847, 7.5);
seg(198, 218, 855, '#f5474b', 1, 'dotted'); txt('2022 (daily)', 220, 855, 7.5);
txt('Sep.8:', 293, 807, 8, { color: RED, align: 'center' });
txt('-3.3% yoy*', 293, 815.5, 8, { color: RED, align: 'center' });
txt('*Percentage change relative to 2021', 73, 875, 7.5, { w: 111 });

// ---- Exhibit 6 ----
makeChart({ x: 405, y: 708, w: 327, h: 165, top: 14.7 },
  { min: 0, max: 365, at: monthStarts, labels: monthLabels, h: 14.7 },
  { min: 0, max: 8, at: [0, 2, 4, 6, 8], lw: 26, rw: 17 },
  [{ data: pts(subway2022), borderColor: RED, borderWidth: 2.4 },
   { data: pts(subway2021), borderColor: NAVY, borderWidth: 2.2 },
   { data: weekly(subwayDailyHigh, subwayDailyLow), borderColor: '#f5474b', borderWidth: 1, borderDash: [1.5, 1.5] },
   { data: pts(subway2020), borderColor: GRAY, borderWidth: 2 },
   { data: pts(subway2019), borderColor: LBLUE, borderWidth: 2 }]);
txt('Million persons, 7-day moving avg', 417, 714, 7.5, { w: 106 });
txt('Million persons, 7-day moving avg', 728, 714, 7.5, { w: 106, align: 'right' });
txt('Daily passenger volume in Chengdu subways', 573, 733, 7.5, { w: 142, align: 'center' });
seg(527, 545, 820, LBLUE, 2); txt('2019', 547, 820, 7.5);
seg(527, 545, 828.5, GRAY, 2); txt('2020', 547, 828.5, 7.5);
seg(527, 545, 837, NAVY, 2.5); txt('2021', 547, 837, 7.5);
seg(527, 545, 845, RED, 2.5); txt('2022', 547, 845, 7.5);
seg(527, 545, 853, '#f5474b', 1, 'dotted'); txt('2022 (daily)', 547, 853, 7.5);
txt('Sep.7:', 655, 841, 8, { color: RED, align: 'center' });
txt('\u221289.1% yoy*', 655, 849, 8, { color: RED, align: 'center' });
txt('*Percentage change relative to 2021', 417, 873, 7.5, { w: 112 });
</script>
</body>
</html>
